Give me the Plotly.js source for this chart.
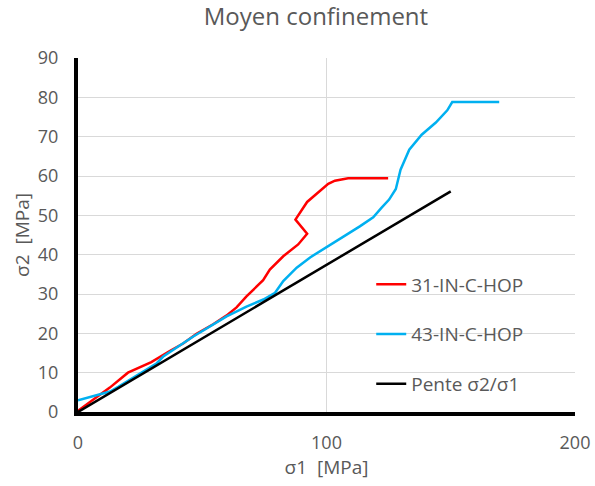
<!DOCTYPE html>
<html>
<head>
<meta charset="utf-8">
<script src="https://cdn.plot.ly/plotly-3.0.1.min.js"></script>
<style>html,body{margin:0;padding:0;background:#fff;}#chart{width:595px;height:486px;}</style>
</head>
<body>
<div id="chart"></div>
<script>
const redName = "31-IN-C-HOP";
const redX = [0, 12.8, 20.1, 29.5, 36.9, 42.3, 47.7, 54.4, 59.7, 63.8, 67.8, 74.5, 77.2, 82.6, 88.6, 92.2, 87.5, 92.2, 100.7, 103.4, 108.7, 124.8];
const redY = [0.3, 6.2, 10.0, 12.7, 15.5, 17.4, 19.9, 22.3, 24.5, 26.6, 29.4, 33.5, 36.2, 39.6, 42.6, 45.3, 48.9, 53.4, 58.0, 58.8, 59.4, 59.4];

const blueName = "43-IN-C-HOP";
const blueX = [0, 12.9, 16.2, 31.7, 34.3, 46.4, 59.8, 67.8, 74.6, 79.3, 82.6, 88.0, 93.4, 100.7, 108.1, 113.4, 118.8, 122.1, 125.2, 127.9, 129.8, 133.3, 138.3, 144.0, 148.6, 150.6, 169.5];
const blueY = [3.0, 5.2, 6.4, 12.4, 14.1, 19.2, 24.3, 26.8, 28.6, 30.3, 33.3, 36.7, 39.3, 42.1, 45.1, 47.2, 49.5, 51.9, 54.0, 56.7, 61.6, 66.7, 70.5, 73.6, 76.7, 78.8, 78.8];

const blackName = "Pente σ2/σ1";
const blackX = [0, 150];
const blackY = [0, 56.1];

const titleText = "Moyen confinement";
const xTitle = "σ1  [MPa]";
const yTitle = "σ2  [MPa]";

const grey = "#595959";
const fontFam = "Open Sans, Liberation Sans, sans-serif";

const traces = [
  {x: redX, y: redY, name: redName, mode: "lines", line: {color: "#ff0000", width: 2.5}, legendgroup: "a"},
  {x: blueX, y: blueY, name: blueName, mode: "lines", line: {color: "#00b0f0", width: 2.5}, legendgroup: "b"},
  {x: blackX, y: blackY, name: blackName, mode: "lines", line: {color: "#000000", width: 2.5}, legendgroup: "c"}
];

const layout = {
  width: 595, height: 486,
  margin: {l: 78, r: 20, t: 58, b: 74},
  paper_bgcolor: "#ffffff", plot_bgcolor: "#ffffff",
  font: {family: fontFam, color: grey, size: 18},
  title: {text: titleText, font: {size: 24, color: grey, family: fontFam}, x: 0.531, xanchor: "center", y: 0.965, yanchor: "middle"},
  xaxis: {
    range: [0, 200], tickvals: [0, 100, 200], ticktext: ["0", "100", "200"],
    showgrid: true, gridcolor: "#d9d9d9", gridwidth: 1,
    showline: true, linecolor: "#000000", linewidth: 4, zeroline: false,
    ticks: "", tickfont: {size: 18, color: grey}, ticklabelstandoff: 11,
    title: {text: xTitle, font: {size: 19, color: grey}, standoff: 4}
  },
  yaxis: {
    range: [0, 90], dtick: 10,
    showgrid: true, gridcolor: "#d9d9d9", gridwidth: 1,
    showline: true, linecolor: "#000000", linewidth: 4, zeroline: false,
    ticks: "", tickfont: {size: 18, color: grey}, ticklabelstandoff: 12,
    title: {text: yTitle, font: {size: 19, color: grey}, standoff: 4}
  },
  showlegend: true,
  legend: {
    x: 0.59, y: 0.414, xanchor: "left", yanchor: "top",
    bgcolor: "rgba(255,255,255,0)", font: {size: 19, color: grey},
    traceorder: "grouped", tracegroupgap: 22, itemwidth: 30
  }
};

Plotly.newPlot("chart", traces, layout, {displayModeBar: false, staticPlot: true});
</script>
</body>
</html>
